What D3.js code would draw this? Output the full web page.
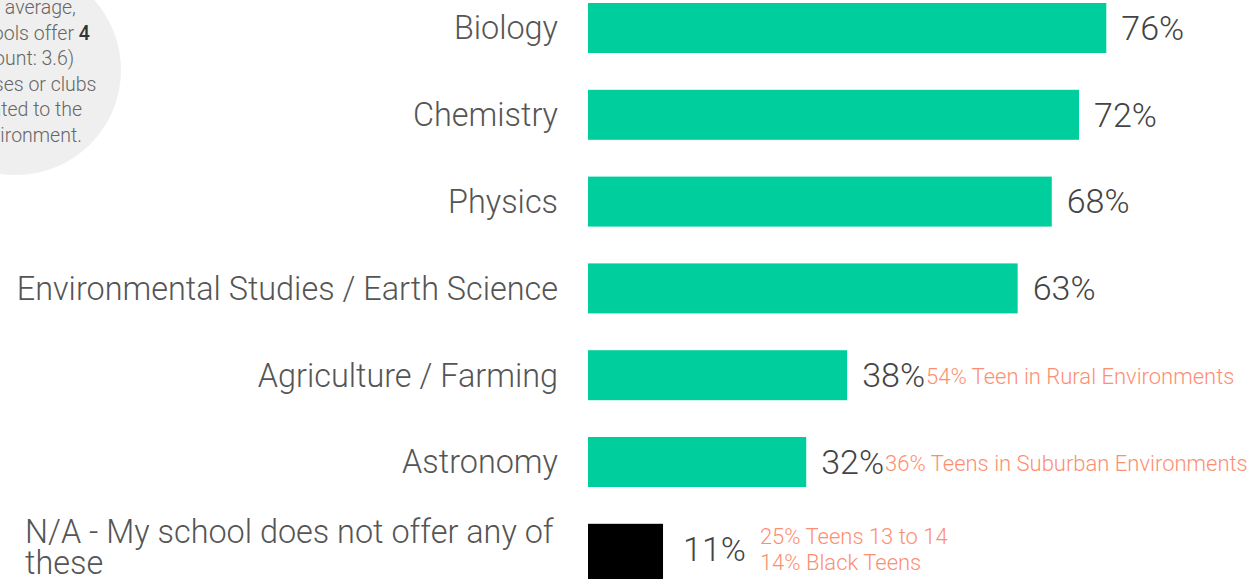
<!DOCTYPE html>
<html>
<head>
<meta charset="utf-8">
<script src="https://cdn.jsdelivr.net/npm/d3@7"></script>
<style>
  body { margin: 0; background: #fff; }
  svg { display: block; font-family: Roboto, "Liberation Sans", sans-serif; }
</style>
</head>
<body>
<svg id="chart"></svg>
<script>
const categories = [
  "Biology",
  "Chemistry",
  "Physics",
  "Environmental Studies / Earth Science",
  "Agriculture / Farming",
  "Astronomy",
  "N/A - My school does not offer any of these"
];
const values = [76, 72, 68, 63, 38, 32, 11];
const notes = [
  [], [], [], [],
  ["54% Teen in Rural Environments"],
  ["36% Teens in Suburban Environments"],
  ["25% Teens 13 to 14", "14% Black Teens"]
];
const calloutLines = ["On average,", "schools offer ", "(count: 3.6)", "courses or clubs", "related to the", "environment."];
const calloutBold = "4";

const width = 1254, height = 579;
const barColor = "#00cf9d", naColor = "#000000";
const noteColor = "#fc8f72";
const labelColor = "#555";

const svg = d3.select("#chart").attr("width", width).attr("height", height);

// scales
const x = d3.scaleLinear().domain([0, 100]).range([588, 588 + 682]);
const y = d3.scaleBand().domain(categories).range([3, 573.8]).paddingInner(0.424).paddingOuter(0);

// callout bubble
svg.append("circle")
  .attr("cx", 16).attr("cy", 70).attr("r", 105)
  .attr("fill", "#efefef");

const callout = svg.append("text")
  .attr("font-size", 19.5)
  .attr("fill", "#666")
  .attr("font-weight", 300)
  .attr("text-anchor", "middle");
calloutLines.forEach((line, i) => {
  const t = callout.append("tspan")
    .attr("x", 26)
    .attr("y", 14 + i * 25.6)
    .text(line);
  if (i === 1) {
    t.append("tspan").attr("font-weight", 500).attr("fill", "#333").text(calloutBold);
  }
});

// bars
const rows = svg.selectAll("g.row")
  .data(categories.map((c, i) => ({ cat: c, v: values[i], notes: notes[i], na: i === categories.length - 1 })))
  .enter().append("g")
  .attr("class", "row")
  .attr("transform", d => `translate(0,${y(d.cat)})`);

rows.append("rect")
  .attr("x", x(0))
  .attr("width", d => x(d.v) - x(0))
  .attr("height", d => d.na ? y.bandwidth() + 6 : y.bandwidth())
  .attr("fill", d => d.na ? naColor : barColor);

// category labels
rows.each(function (d) {
  const g = d3.select(this);
  const mid = y.bandwidth() / 2;
  if (d.na) {
    const t = g.append("text")
      .attr("font-size", 32.4)
      .attr("font-weight", 300)
      .attr("fill", labelColor);
    t.append("tspan").attr("x", 25).attr("y", mid - 6).text("N/A - My school does not offer any of");
    t.append("tspan").attr("x", 25).attr("y", mid + 25).text("these");
  } else {
    g.append("text")
      .attr("x", 558)
      .attr("y", mid)
      .attr("dy", "0.35em")
      .attr("text-anchor", "end")
      .attr("font-size", 32.4)
      .attr("font-weight", 300)
      .attr("fill", labelColor)
      .text(d.cat);
  }
});

// value labels and notes
rows.each(function (d) {
  const g = d3.select(this);
  const mid = y.bandwidth() / 2;
  const vx = x(d.v) + (d.na ? 20 : 15);
  const label = g.append("text")
    .attr("x", vx)
    .attr("y", mid)
    .attr("dy", "0.35em")
    .attr("font-size", 34)
    .attr("font-weight", 300)
    .attr("fill", "#444")
    .text(d.v + "%");
  const lw = label.node().getComputedTextLength();
  if (d.notes.length === 1) {
    g.append("text")
      .attr("x", vx + lw + 1)
      .attr("y", mid + 1)
      .attr("dy", "0.35em")
      .attr("font-size", 22)
      .attr("font-weight", 300)
      .attr("fill", noteColor)
      .text(d.notes[0]);
  } else if (d.notes.length > 1) {
    d.notes.forEach((n, i) => {
      g.append("text")
        .attr("x", vx + lw + 14)
        .attr("y", mid - 13 + i * 27)
        .attr("dy", "0.35em")
        .attr("font-size", 22)
        .attr("font-weight", 300)
        .attr("fill", noteColor)
        .text(n);
    });
  }
});
</script>
</body>
</html>
